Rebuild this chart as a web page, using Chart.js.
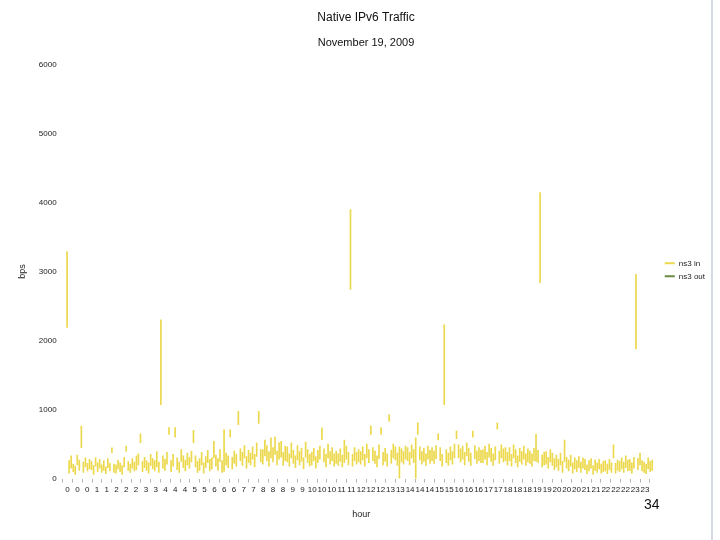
<!DOCTYPE html>
<html>
<head>
<meta charset="utf-8">
<script src="https://cdn.jsdelivr.net/npm/chart.js@4"></script>
<style>
  html, body { margin: 0; padding: 0; background: #fff; }
  #wrap { position: relative; width: 720px; height: 540px; }
  #edge { position: absolute; left: 711px; top: 0; width: 2px; height: 540px; background: #d3dae4; }
  #page { position: absolute; left: 644px; top: 496px; font: 14px "Liberation Sans", Arial, sans-serif; color: #111; }
</style>
</head>
<body>
<div id="wrap">
  <canvas id="grafico" width="720" height="540"></canvas>
  <div id="edge"></div>
  <div id="page">34</div>
</div>
<script>
// amostras de 5 minutos, min/max por intervalo (bps)
const inLow = [
  2190, 80, 150, 100, 60, 200, 120, 450, 90, 170, 110, 140,
  130, 60, 180, 100, 150, 90, 120, 70, 160, 110, 375, 90,
  80, 140, 100, 60, 170, 395, 120, 90, 150, 110, 130, 200,
  520, 100, 160, 120, 80, 190, 140, 110, 170, 90, 1070, 150,
  120, 210, 640, 100, 180, 600, 130, 90, 250, 160, 110, 200,
  150, 240, 520, 170, 90, 120, 200, 80, 160, 230, 110, 140,
  300, 180, 120, 250, 90, 105, 200, 160, 600, 140, 220, 180,
  780, 260, 190, 300, 150, 230, 200, 280, 170, 320, 800, 240,
  210, 330, 260, 180, 300, 240, 350, 200, 280, 310, 190, 260,
  240, 180, 300, 220, 160, 270, 200, 250, 140, 310, 230, 180,
  200, 260, 150, 230, 280, 565, 240, 170, 300, 210, 260, 180,
  220, 190, 250, 170, 230, 280, 200, 2740, 180, 260, 210, 240,
  210, 270, 180, 300, 230, 640, 260, 220, 170, 290, 640, 200,
  250, 180, 830, 220, 300, 270, 190, 0, 240, 210, 280, 260,
  200, 300, 230, 0, 640, 270, 210, 250, 190, 280, 220, 260,
  220, 290, 560, 260, 180, 1070, 230, 190, 270, 210, 300, 580,
  300, 240, 280, 200, 330, 250, 190, 600, 290, 220, 260, 230,
  230, 280, 200, 310, 250, 190, 270, 715, 220, 300, 240, 260,
  200, 260, 180, 300, 230, 170, 250, 210, 280, 190, 240, 220,
  180, 260, 250, 230, 2840, 170, 200, 210, 150, 240, 190, 130,
  170, 120, 200, 90, 250, 150, 110, 180, 80, 140, 100, 160,
  90, 150, 130, 70, 110, 150, 60, 120, 90, 140, 80, 100,
  110, 70, 130, 90, 300, 80, 120, 100, 140, 90, 160, 110,
  120, 80, 150, 1880, 130, 200, 110, 90, 70, 140, 100, 120
];
const inHigh = [
  3290, 260, 330, 210, 180, 340, 270, 760, 240, 300, 220, 280,
  250, 190, 300, 230, 280, 200, 260, 170, 290, 220, 445, 210,
  200, 270, 230, 190, 310, 470, 250, 210, 290, 240, 330, 360,
  650, 250, 310, 260, 230, 350, 290, 260, 390, 240, 2300, 330,
  280, 380, 740, 260, 350, 740, 300, 240, 420, 330, 270, 370,
  310, 400, 700, 330, 250, 290, 380, 230, 320, 410, 280, 300,
  540, 340, 290, 420, 260, 710, 370, 330, 710, 310, 400, 350,
  975, 430, 380, 480, 320, 410, 370, 460, 350, 520, 975, 420,
  420, 560, 480, 390, 590, 450, 600, 400, 520, 540, 380, 470,
  460, 360, 520, 410, 330, 480, 390, 440, 300, 530, 420, 350,
  380, 440, 320, 410, 470, 734, 430, 350, 500, 390, 450, 360,
  400, 360, 430, 340, 560, 470, 380, 3900, 350, 450, 380, 420,
  390, 460, 350, 500, 420, 765, 450, 400, 330, 490, 740, 380,
  440, 360, 928, 410, 500, 460, 370, 460, 430, 390, 470, 450,
  380, 490, 420, 590, 810, 460, 390, 440, 360, 470, 410, 450,
  400, 480, 650, 450, 350, 2230, 420, 370, 460, 390, 500, 690,
  490, 430, 470, 380, 520, 440, 370, 690, 480, 400, 450, 410,
  420, 470, 380, 500, 440, 360, 460, 810, 400, 490, 430, 450,
  380, 450, 350, 490, 420, 330, 440, 390, 470, 360, 430, 400,
  360, 440, 640, 410, 4145, 340, 380, 390, 310, 420, 370, 290,
  340, 280, 370, 250, 560, 310, 270, 340, 230, 300, 260, 320,
  240, 300, 280, 200, 260, 290, 190, 270, 230, 280, 210, 250,
  260, 210, 280, 230, 490, 220, 270, 250, 300, 240, 330, 270,
  280, 230, 310, 2960, 290, 370, 260, 240, 210, 300, 250, 270
];
// rotulos do eixo x (um a cada 24 minutos)
const hourTicks = [0,0,0,1,1,2,2,2,3,3,4,4,4,5,5,6,6,6,7,7,8,8,8,9,9,10,10,10,11,11,
  12,12,12,13,13,14,14,14,15,15,16,16,16,17,17,18,18,18,19,19,20,20,20,21,21,22,22,22,23,23];
const yTicks = [0, 1000, 2000, 3000, 4000, 5000, 6000];
const sampleMinutes = 5;
const tickMinutes = 24;

const inData = inLow.map((lo, i) => ({ x: i * sampleMinutes, y: [lo, inHigh[i]] }));

const fonte = "'Liberation Sans', Arial, sans-serif";

new Chart(document.getElementById("grafico"), {
  type: "bar",
  data: {
    datasets: [
      { label: "ns3 in", data: inData, backgroundColor: "#ecd84c", borderColor: "#ecd84c", barThickness: 1 },
      { label: "ns3 out", data: [], backgroundColor: "#6b8a44", borderColor: "#6b8a44", barThickness: 1 }
    ]
  },
  options: {
    responsive: false,
    animation: false,
    layout: { padding: { left: 17, right: 5, bottom: 20 } },
    scales: {
      x: {
        type: "linear",
        min: 0,
        max: 1440,
        afterBuildTicks: (scale) => {
          scale.ticks = hourTicks.map((h, i) => ({ value: i * tickMinutes }));
        },
        ticks: {
          autoSkip: false,
          maxRotation: 0,
          padding: 2,
          color: "#222",
          font: { family: fonte, size: 8 },
          callback: (v, i) => hourTicks[i]
        },
        grid: { display: true, drawOnChartArea: false, drawTicks: true, tickLength: 4, color: "#b5b5b5" },
        border: { display: false },
        title: { display: true, text: "hour", color: "#222", font: { family: fonte, size: 9 }, padding: { top: 13, bottom: 0 } }
      },
      y: {
        min: 0,
        max: 6000,
        afterBuildTicks: (scale) => {
          scale.ticks = yTicks.map(v => ({ value: v }));
        },
        ticks: { padding: 6, color: "#222", font: { family: fonte, size: 8 }, callback: (v) => String(v) },
        grid: { display: false, drawTicks: false },
        border: { display: false },
        title: { display: true, text: "bps", color: "#222", font: { family: fonte, size: 9 }, padding: { top: 0, bottom: 5 } }
      }
    },
    plugins: {
      title: {
        display: true,
        text: "Native IPv6 Traffic",
        color: "#111",
        font: { family: fonte, size: 12, weight: "normal" },
        padding: { top: 10, bottom: 12 }
      },
      subtitle: {
        display: true,
        text: "November 19, 2009",
        color: "#111",
        font: { family: fonte, size: 11 },
        padding: { top: 0, bottom: 15 }
      },
      legend: {
        position: "right",
        align: "center",
        title: { display: true, text: " ", font: { size: 8 }, padding: { top: 0, bottom: 10 } },
        labels: {
          boxWidth: 10,
          boxHeight: 2,
          padding: 5,
          color: "#222",
          font: { family: fonte, size: 8 }
        }
      },
      tooltip: { enabled: false }
    }
  }
});
</script>
</body>
</html>
